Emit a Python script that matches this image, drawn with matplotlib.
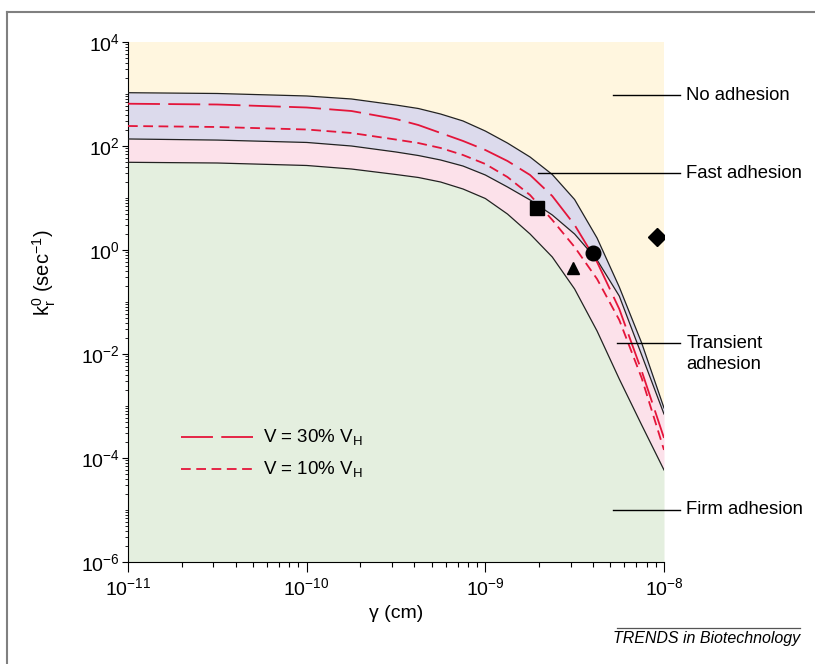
import matplotlib
matplotlib.use("Agg")
import matplotlib.pyplot as plt
from matplotlib.ticker import LogLocator, LogFormatterSciNotation, NullFormatter
from matplotlib.lines import Line2D

plt.rcParams['font.family'] = ['Liberation Sans', 'DejaVu Sans']
plt.rcParams['mathtext.fontset'] = 'custom'
plt.rcParams['mathtext.rm'] = 'Liberation Sans'
plt.rcParams['mathtext.it'] = 'Liberation Sans:italic'
plt.rcParams['mathtext.sf'] = 'Liberation Sans'
plt.rcParams['lines.scale_dashes'] = False

# gamma (cm) sample points
gamma = [1e-11, 3.16e-11, 1e-10, 1.78e-10, 3.16e-10, 4.22e-10, 5.62e-10, 7.5e-10, 1e-9,
         1.33e-9, 1.78e-9, 2.37e-9, 3.16e-9, 4.22e-9, 5.62e-9, 7.5e-9, 1e-8]
# region boundaries (k_r^0, 1/sec)
k_upper = [1059, 1023, 916, 802, 614, 526, 412, 303, 194, 114, 61.4, 28.3, 9.35, 1.70,
           0.194, 0.0163, 9.16e-4]
k_mid = [136.5, 130, 117, 100, 76.7, 65.6, 53.8, 41.2, 27.7, 16.3, 9.16, 4.71, 2.03, 0.643,
         0.130, 9.57e-3, 7.0e-4]
k_low = [48.6, 47.1, 42.2, 36.1, 28.3, 24.8, 20.3, 14.9, 9.78, 4.92, 2.03, 0.733, 0.178,
         0.0277, 3.30e-3, 4.31e-4, 5.88e-5]
# velocity curves
k_v30 = [650, 628, 550, 471, 330, 253, 178, 125, 83.8, 51.5, 27.7, 10.9, 3.03, 0.588,
         0.0733, 4.71e-3, 2.43e-4]
k_v10 = [242.5, 232, 207.6, 178, 133, 114, 91.6, 67.1, 45.1, 25.3, 11.4, 3.78, 1.14, 0.277,
         0.0451, 3.45e-3, 1.43e-4]

# experimental points
pts_gamma = [1.94e-9, 4.0e-9, 3.1e-9, 9.1e-9]
pts_k = [6.4, 0.87, 0.45, 1.8]
pts_marker = ['s', 'o', '^', 'D']
pts_size = [9.5, 10.5, 9, 9]

regions = ['No adhesion', 'Fast adhesion', 'Transient\nadhesion', 'Firm adhesion']
region_y = [955, 30, 0.0162, 1e-5]
region_x0 = [5.19e-9, 1.97e-9, 5.46e-9, 5.19e-9]

c_yellow = '#FFF6DF'
c_lav = '#DCDAEC'
c_pink = '#FCE1EA'
c_green = '#E4EFDF'
c_red = '#E4153A'

fig = plt.figure(figsize=(8.15, 6.64), dpi=100)
ax = fig.add_axes([128/815, 102/664, 536/815, 520/664])
ax.set_xscale('log')
ax.set_yscale('log')
ax.set_xlim(1e-11, 1e-8)
ax.set_ylim(1e-6, 1e4)
ax.set_facecolor(c_yellow)

ax.fill_between(gamma, k_mid, k_upper, color=c_lav, lw=0, zorder=1)
ax.fill_between(gamma, k_low, k_mid, color=c_pink, lw=0, zorder=1)
ax.fill_between(gamma, 1e-6, k_low, color=c_green, lw=0, zorder=1)

for kk in (k_upper, k_mid, k_low):
    ax.plot(gamma, kk, color='#222222', lw=0.9, zorder=3)

ax.plot(gamma, k_v30, color=c_red, lw=1.3, linestyle=(0, (23, 6)), zorder=4)
ax.plot(gamma, k_v10, color=c_red, lw=1.3, linestyle=(0, (7, 4)), zorder=4)

for g, k, m, s in zip(pts_gamma, pts_k, pts_marker, pts_size):
    ax.plot([g], [k], marker=m, ms=s, color='black', ls='none', zorder=6)

# legend drawn by hand
ax.plot([0.099, 0.233], [0.240, 0.240], transform=ax.transAxes, color=c_red, lw=1.3,
        linestyle=(0, (23, 6)))
ax.plot([0.099, 0.233], [0.179, 0.179], transform=ax.transAxes, color=c_red, lw=1.3,
        linestyle=(0, (7, 4)))
ax.text(0.252, 0.240, r'V = 30% V$_\mathregular{H}$', transform=ax.transAxes,
        fontsize=13.5, va='center', ha='left')
ax.text(0.252, 0.179, r'V = 10% V$_\mathregular{H}$', transform=ax.transAxes,
        fontsize=13.5, va='center', ha='left')

# region labels (second line of a two-line label sits ~21 px lower)
for lab, y, x0 in zip(regions, region_y, region_x0):
    ax.plot([x0, 1.23e-8], [y, y], color='black', lw=1.0, clip_on=False, zorder=5)
    for i, part in enumerate(lab.split('\n')):
        ax.text(1.33e-8, y * 0.395 ** i, part, fontsize=13.3, va='center', ha='left',
                clip_on=False)

for sp in ('top', 'right'):
    ax.spines[sp].set_visible(False)
for sp in ('left', 'bottom'):
    ax.spines[sp].set_linewidth(0.8)

ax.xaxis.set_major_locator(LogLocator(base=10, numticks=10))
ax.xaxis.set_minor_locator(LogLocator(base=10, subs=range(2, 10), numticks=20))
ax.xaxis.set_minor_formatter(NullFormatter())
ax.yaxis.set_major_locator(LogLocator(base=100, numticks=10))
ax.yaxis.set_minor_locator(LogLocator(base=10, subs=range(1, 10), numticks=30))
ax.yaxis.set_minor_formatter(NullFormatter())
ax.yaxis.set_major_formatter(LogFormatterSciNotation(base=10))

ax.tick_params(axis='x', which='major', direction='out', length=7, width=0.8, labelsize=14, pad=4)
ax.tick_params(axis='x', which='minor', direction='out', length=3.8, width=0.8)
ax.tick_params(axis='y', which='major', direction='out', length=4, width=0.8, labelsize=14, pad=2)
ax.tick_params(axis='y', which='minor', direction='out', length=2.3, width=0.6)

ax.set_xlabel('γ (cm)', fontsize=14)
ax.xaxis.set_label_coords(0.5, -0.083)
ax.set_ylabel(r'$\mathregular{k_r^0}$ (sec$^{\mathregular{-1}}$)', fontsize=14.5)
ax.yaxis.set_label_coords(-0.13, 0.556)

# outer frame
fig.add_artist(Line2D([7/815, 7/815], [0, 1 - 12/664], color='#808080', lw=1.5))
fig.add_artist(Line2D([7/815, 1], [1 - 12/664, 1 - 12/664], color='#808080', lw=1.5))
fig.add_artist(Line2D([617/815, 800/815], [1 - 628/664, 1 - 628/664], color='#555555', lw=0.9))
fig.text(800/815, 1 - 638/664, 'TRENDS in Biotechnology', fontsize=11.5, style='italic',
         ha='right', va='center')

fig.savefig('out.png', dpi=100)
